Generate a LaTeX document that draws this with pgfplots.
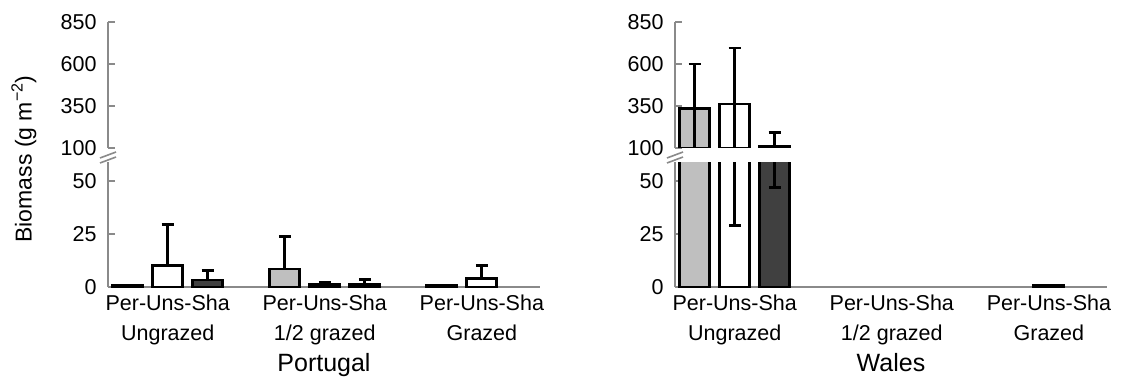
\documentclass[border=0pt]{standalone}
\usepackage{fontspec}
\setmainfont{Liberation Sans}
\usepackage{pgfplots}
\pgfplotsset{compat=1.18}
\definecolor{axgray}{HTML}{8A8A8A}
\definecolor{perg}{HTML}{BFBFBF}
\definecolor{shag}{HTML}{404040}
\pgfplotsset{
  base/.style={
    scale only axis, width=432pt, anchor=south west,
    xmin=-0.38, xmax=2.37,
    ybar=10pt, bar width=30pt,
    font=\fontsize{21.5}{30}\selectfont,
    /pgf/number format/assume math mode=true,
    axis line style={axgray, line width=2pt},
    ytick style={axgray, line width=2pt},
    tick align=inside, major tick length=7pt,
    yticklabel style={xshift=-8pt},
    every axis plot/.append style={draw=black, line width=2.8pt},
    error bars/error bar style={line width=2.8pt, black},
    error bars/error mark options={rotate=90, mark size=6pt, line width=2.8pt, black},
  },
  lower/.style={base, height=125pt, ymin=0, ymax=59, ytick={0,25,50},
    axis x line*=bottom, axis y line*=left,
    xtick={0,1,2}, xtick style={draw=none},
    xticklabels={{Per-Uns-Sha\\Ungrazed},{Per-Uns-Sha\\1/2 grazed},{Per-Uns-Sha\\Grazed}},
    xticklabel style={align=center, yshift=-4pt},
    xlabel style={font=\fontsize{25}{30}\selectfont, yshift=-3pt, inner sep=2pt},
  },
  upper/.style={base, height=126pt, ymin=100, ymax=850, ytick={100,350,600,850},
    axis y line*=left, axis x line=none, xtick=\empty},
}
\begin{document}
\begin{tikzpicture}
\path[use as bounding box] (0,0) rectangle (1122pt,378pt);
% Portugal lower
\begin{axis}[lower, at={(108pt,91pt)}, xlabel={Portugal}]
\addplot[fill=perg, error bars/.cd, y dir=plus, y explicit] coordinates {(0,0.6) (1,8.5) +- (0,15.5) (2,0.6)};
\addplot[fill=white, error bars/.cd, y dir=plus, y explicit] coordinates {(0,10) +- (0,19.5) (1,1.0) +- (0,1.2) (2,4) +- (0,6)};
\addplot[fill=shag, error bars/.cd, y dir=plus, y explicit] coordinates {(0,3.3) +- (0,4.3) (1,1.0) +- (0,2.5)};
\end{axis}
% Portugal upper
\begin{axis}[upper, at={(108pt,230pt)}]
\end{axis}
% Wales lower
\begin{axis}[lower, at={(675pt,91pt)}, xlabel={Wales}]
\addplot[fill=perg, error bars/.cd, y dir=both, y explicit] coordinates {(0,335) += (0,265) -= (0,240)};
\addplot[fill=white, error bars/.cd, y dir=both, y explicit] coordinates {(0,362) += (0,333) -= (0,333) (2,0.8)};
\addplot[fill=shag, error bars/.cd, y dir=both, y explicit] coordinates {(0,108) += (0,82) -= (0,61)};
\end{axis}
% Wales upper
\begin{axis}[upper, at={(675pt,230pt)}]
\addplot[fill=perg, error bars/.cd, y dir=both, y explicit] coordinates {(0,335) += (0,265) -= (0,240)};
\addplot[fill=white, error bars/.cd, y dir=both, y explicit] coordinates {(0,362) += (0,333) -= (0,333)};
\addplot[fill=shag, error bars/.cd, y dir=both, y explicit] coordinates {(0,108) += (0,82) -= (0,61)};
\end{axis}
% axis break marks
\draw[axgray, line width=1.6pt] (100pt,220pt) -- (116pt,226pt) (100pt,215pt) -- (116pt,221pt);
\draw[axgray, line width=1.6pt] (667pt,220pt) -- (683pt,226pt) (667pt,215pt) -- (683pt,221pt);
\node[rotate=90, font=\fontsize{23}{25}\selectfont] at (24pt,219pt) {Biomass (g m\textsuperscript{−2})};
\end{tikzpicture}
\end{document}
